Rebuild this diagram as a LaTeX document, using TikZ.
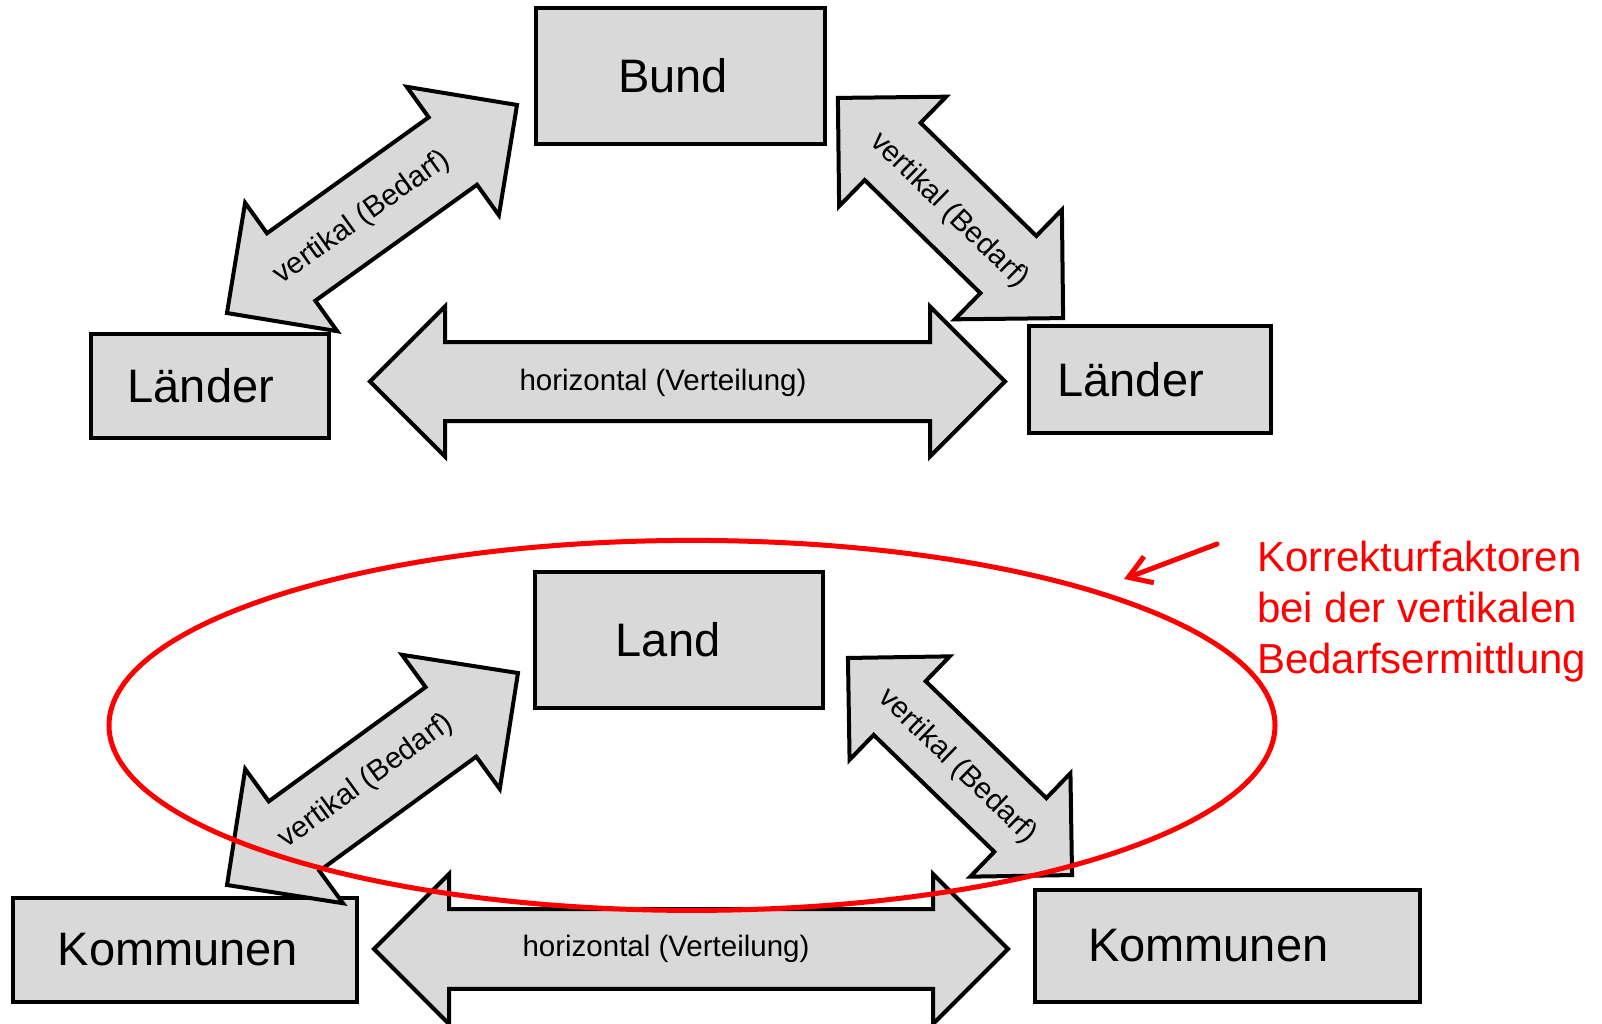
\documentclass[tikz,border=0pt]{standalone}
\usepackage{fontspec}
\setmainfont{Liberation Sans}
\usetikzlibrary{
    arrows.meta,
    shapes.arrows,
    shapes.geometric
}
\definecolor{boxgray}{RGB}{217,217,217}
\definecolor{korrred}{RGB}{255,0,0}
\tikzset{
    ebene/.style={
        draw,
        rectangle,
        line width=4pt,
        fill=boxgray,
        inner ysep=0pt,
        align=left,
        font=\fontsize{47}{56}\selectfont
    },
    dblarr/.style={
        double arrow,
        draw,
        line width=4pt,
        fill=boxgray,
        inner xsep=0pt,
        double arrow head indent=0pt
    },
    arrtext/.style={
        inner sep=0pt,
        font=\fontsize{29.5}{35}\selectfont
    },
    korrtext/.style={
        align=left,
        inner sep=0pt,
        text=korrred,
        font=\fontsize{42}{51}\selectfont
    },
    korrarr/.style={
        -{Straight Barb[length=22pt,width=28pt]},
        line width=5pt,
        draw=korrred,
        line cap=round
    }
}

\begin{document}
\begin{tikzpicture}[x=1pt, y=-1pt]
\useasboundingbox (0,0) rectangle (1602,1023);

% Bund - Laender
\node[ebene, text width=125pt, inner xsep=82pt, minimum height=136pt] (bund) at (680.5,76) {Bund};
\node[ebene, text width=164.6pt, inner xsep=36.7pt, minimum height=104pt] (laenderL) at (210,386) {Länder};
\node[ebene, text width=185pt, inner xsep=28.5pt, minimum height=107pt] (laenderR) at (1150,379.5) {Länder};

\node[dblarr, minimum height=357pt, minimum width=154pt, inner ysep=39.5pt, double arrow head extend=37.5pt, rotate=35.65] (vertL) at (372,209) {};
\node[dblarr, minimum height=315pt, minimum width=149pt, inner ysep=38pt, double arrow head extend=36.6pt, rotate=-44.35] (vertR) at (950.5,208) {};
\node[dblarr, minimum height=635pt, minimum width=146pt, inner ysep=37.5pt, double arrow head extend=35.5pt] (horiz) at (687.5,381.5) {};

\node[arrtext, rotate=35.65] (vertLtxt) at (362,218) {vertikal (Bedarf)};
\node[arrtext, rotate=-44.35] (vertRtxt) at (949,210.5) {vertikal (Bedarf)};
\node[arrtext] (horiztxt) at (663,383) {horizontal (Verteilung)};

% Land - Kommunen
\node[ebene, text width=126.5pt, inner xsep=81pt, minimum height=136pt] (land) at (679,640) {Land};
\node[ebene, text width=254.6pt, inner xsep=45pt, minimum height=104pt] (kommL) at (185,950) {Kommunen};
\node[ebene, text width=279pt, inner xsep=53pt, minimum height=112pt] (kommR) at (1227.5,946) {Kommunen};

\node[dblarr, minimum height=360pt, minimum width=162pt, inner ysep=41pt, double arrow head extend=40pt, rotate=36.08] (vertL2) at (372.5,779) {};
\node[dblarr, minimum height=312pt, minimum width=140pt, inner ysep=35.4pt, double arrow head extend=34.6pt, rotate=-44.09] (vertR2) at (960,766.5) {};
\node[dblarr, minimum height=634pt, minimum width=146pt, inner ysep=37.8pt, double arrow head extend=35.2pt] (horiz2) at (691,949) {};

\node[arrtext, rotate=36.08] (vertL2txt) at (366,781.5) {vertikal (Bedarf)};
\node[arrtext, rotate=-44.09] (vertR2txt) at (957.5,766.5) {vertikal (Bedarf)};
\node[arrtext] (horiz2txt) at (666,949) {horizontal (Verteilung)};

% Korrekturfaktoren
\node[ellipse, draw=korrred, line width=5pt, inner sep=0pt, minimum width=1166pt, minimum height=370pt] (korrgrp) at (692,725.4) {};
\node[korrtext, anchor=west] (korr) at (1257,611.5) {Korrekturfaktoren\\bei der vertikalen\\Bedarfsermittlung};
\coordinate (kfstart) at (1217,544);
\coordinate (kftip) at (1124,579);
\draw[korrarr] (kfstart) -- (kftip);

\end{tikzpicture}
\end{document}
